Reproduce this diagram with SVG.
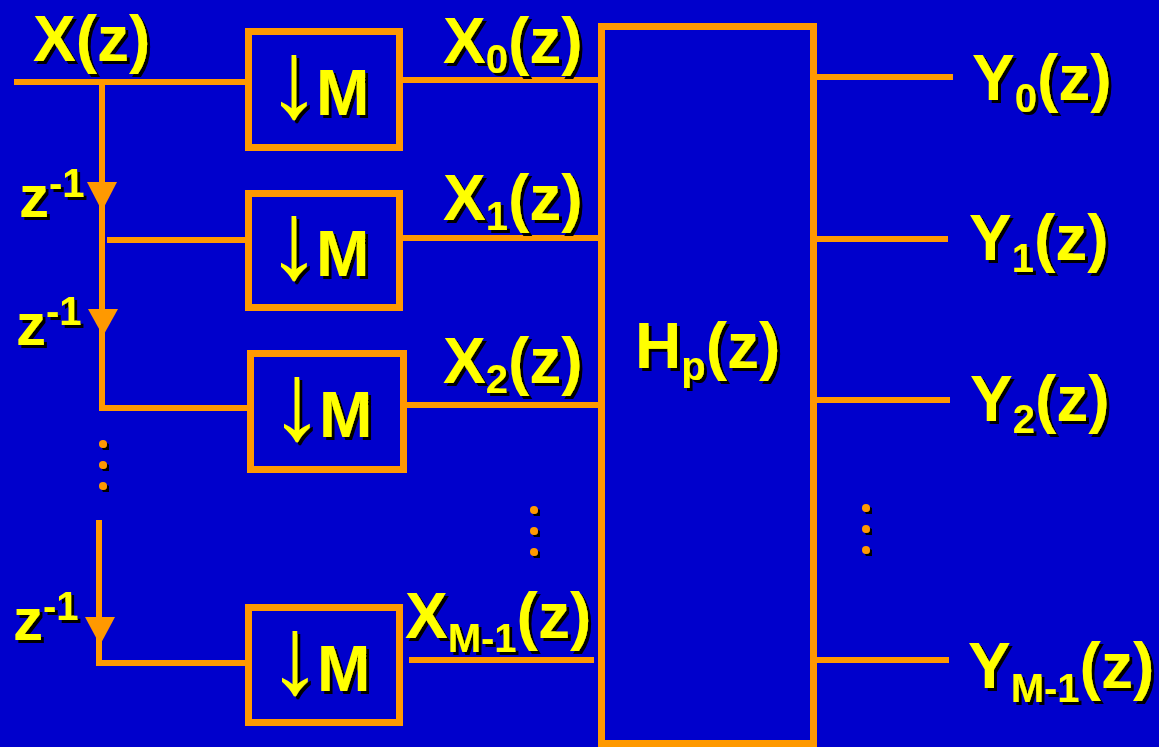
<svg xmlns="http://www.w3.org/2000/svg" width="1159" height="747" viewBox="0 0 1159 747">
<defs>
<filter id="sh" x="-10%" y="-10%" width="130%" height="130%">
<feDropShadow dx="3" dy="3" stdDeviation="0" flood-color="#000" flood-opacity="1"/>
</filter>
<style>
.ln{stroke:#FF9900;stroke-width:6;fill:none}
.bx{stroke:#FF9900;stroke-width:7;fill:none}
.ar{fill:#FF9900}
.dot{fill:#FF9900;filter:url(#sh)}
.t{font-family:"Liberation Sans",Arial,sans-serif;font-weight:bold;font-size:64px;fill:#FFFF00;filter:url(#sh)}
.s{font-size:40px}
.z{font-size:60px}
.ds{font-family:"Liberation Sans",Arial,sans-serif;font-weight:normal;font-size:110px;letter-spacing:-12px}
</style>
</defs>
<rect width="1159" height="747" fill="#0000CC"/>

<g id="connectors">
<path class="ln" d="M14 82H245"/>
<path class="ln" d="M102 82V408H247"/>
<path class="ln" d="M107 240H245"/>
<path class="ar" d="M87 182H117L102 211Z"/>
<path class="ar" d="M88 309H118L103 336Z"/>
<path class="ln" d="M99 520V663H245"/>
<path class="ar" d="M85 617H115L100 645Z"/>
<path class="ln" d="M403 80H598"/>
<path class="ln" d="M403 238H598"/>
<path class="ln" d="M407 405H598"/>
<path class="ln" d="M409 660H594"/>
<path class="ln" d="M817 77H953"/>
<path class="ln" d="M817 239H948"/>
<path class="ln" d="M817 400H950"/>
<path class="ln" d="M817 660H949"/>
</g>

<g id="dots">
<circle class="dot" cx="103" cy="444" r="4"/>
<circle class="dot" cx="103" cy="465" r="4"/>
<circle class="dot" cx="103" cy="486" r="4"/>
<circle class="dot" cx="534" cy="510" r="4"/>
<circle class="dot" cx="534" cy="531" r="4"/>
<circle class="dot" cx="534" cy="552" r="4"/>
<circle class="dot" cx="866" cy="508" r="4"/>
<circle class="dot" cx="866" cy="529" r="4"/>
<circle class="dot" cx="866" cy="550" r="4"/>
</g>

<g id="input-label"><text class="t" x="33" y="61">X(z)</text></g>

<g id="delay1"><text class="t z" x="19" y="217">z<tspan class="s" dy="-20">-1</tspan></text></g>
<g id="delay2"><text class="t z" x="16" y="345">z<tspan class="s" dy="-20">-1</tspan></text></g>
<g id="delay3"><text class="t z" x="13" y="640">z<tspan class="s" dy="-20">-1</tspan></text></g>

<g id="down0"><rect class="bx" x="248.5" y="31.5" width="151" height="116"/><text class="t" y="117"><tspan class="ds" x="288" text-anchor="middle">↓</tspan><tspan x="316" y="115">M</tspan></text></g>
<g id="down1"><rect class="bx" x="248.5" y="193.5" width="151" height="114"/><text class="t" y="278"><tspan class="ds" x="288" text-anchor="middle">↓</tspan><tspan x="316" y="276">M</tspan></text></g>
<g id="down2"><rect class="bx" x="250.5" y="353.5" width="153" height="116"/><text class="t" y="439"><tspan class="ds" x="291" text-anchor="middle">↓</tspan><tspan x="319" y="437">M</tspan></text></g>
<g id="downM1"><rect class="bx" x="248.5" y="607.5" width="151" height="115"/><text class="t" y="693"><tspan class="ds" x="289" text-anchor="middle">↓</tspan><tspan x="317" y="691">M</tspan></text></g>

<g id="x0"><text class="t" x="443" y="63">X<tspan class="s" dy="10">0</tspan><tspan dy="-10">(z)</tspan></text></g>
<g id="x1"><text class="t" x="443" y="220">X<tspan class="s" dy="10">1</tspan><tspan dy="-10">(z)</tspan></text></g>
<g id="x2"><text class="t" x="443" y="383">X<tspan class="s" dy="10">2</tspan><tspan dy="-10">(z)</tspan></text></g>
<g id="xM1"><text class="t" x="405" y="638">X<tspan class="s" dy="14">M-1</tspan><tspan dy="-14">(z)</tspan></text></g>

<g id="hp"><rect class="bx" x="601.5" y="26.5" width="212" height="717"/><text class="t" x="635" y="368">H<tspan class="s" dy="12">p</tspan><tspan dy="-12">(z)</tspan></text></g>

<g id="y0"><text class="t" x="972" y="100">Y<tspan class="s" dy="12">0</tspan><tspan dy="-12">(z)</tspan></text></g>
<g id="y1"><text class="t" x="969" y="260">Y<tspan class="s" dy="12">1</tspan><tspan dy="-12">(z)</tspan></text></g>
<g id="y2"><text class="t" x="970" y="421">Y<tspan class="s" dy="12">2</tspan><tspan dy="-12">(z)</tspan></text></g>
<g id="yM1"><text class="t" x="968" y="688">Y<tspan class="s" dy="14">M-1</tspan><tspan dy="-14">(z)</tspan></text></g>
</svg>
